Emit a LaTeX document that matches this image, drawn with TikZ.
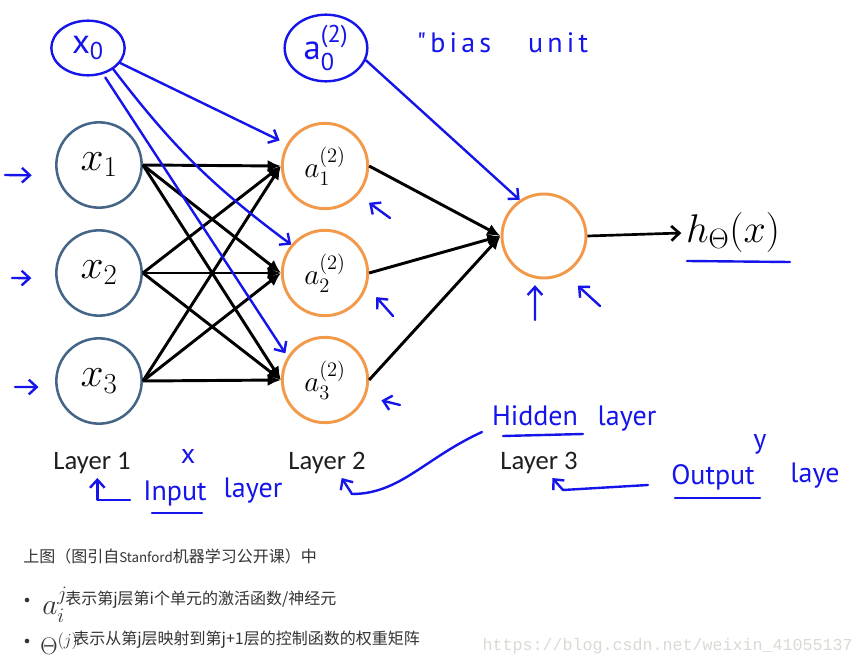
\RequirePackage{fix-cm}
\documentclass[tikz,border=0pt]{standalone}
\usepackage{amsmath}
\usepackage{fontspec}
\newfontfamily\labelfont{Carlito}
\newfontfamily\cjkfont{Noto Sans CJK SC}
\newfontfamily\penfont{PT Sans}
\newfontfamily\penwide{PT Sans}[LetterSpace=15]
\newfontfamily\wmfont{Liberation Mono}
\usetikzlibrary{positioning,shapes.geometric,arrows.meta}
\definecolor{inblue}{RGB}{68,100,136}
\definecolor{hidorange}{RGB}{242,153,74}
\definecolor{penblue}{RGB}{20,20,235}
\definecolor{txtgray}{RGB}{51,51,51}
\definecolor{wmgray}{RGB}{218,218,212}
\tikzset{
  innode/.style={circle, draw=inblue, line width=1.9pt, minimum size=64pt, inner sep=0pt,
                 font=\fontsize{31}{31}\selectfont},
  hidnode/.style={circle, draw=hidorange, line width=2.2pt, minimum size=64pt, inner sep=0pt,
                  font=\fontsize{22}{22}\selectfont},
  outnode/.style={circle, draw=hidorange, line width=2.2pt, minimum size=63pt, inner sep=0pt},
  netarr/.style={-{Latex[length=10pt,width=9pt]}, line width=2.2pt},
  outarr/.style={-{Straight Barb[length=6pt,width=11pt]}, line width=2pt},
  layerlbl/.style={font=\labelfont\fontsize{20}{24}\selectfont, text=black!88, anchor=base},
  pentext/.style={font=\penfont\fontsize{21}{24}\selectfont, text=penblue, anchor=base},
  penell/.style={ellipse, draw=penblue, line width=1.8pt, inner sep=0pt, text=penblue,
                 font=\penfont\fontsize{26}{26}\selectfont},
  penline/.style={draw=penblue, line width=1.8pt, line cap=round},
  penarr/.style={penline, line join=round, -{Straight Barb[length=6pt,width=11pt]}},
  cntext/.style={font=\cjkfont\fontsize{12}{14}\selectfont, text=txtgray, inner sep=0pt, anchor=west},
  bulletdot/.style={circle, fill=txtgray, minimum size=3.5pt, inner sep=0pt}
}

\begin{document}
\begin{tikzpicture}[x=0.75pt,y=-0.75pt]
  \path[use as bounding box, fill=white] (0,0) rectangle (865,667);

  % Input layer
  \node[innode] (x1) at (99,165) {$x_1$};
  \node[innode] (x2) at (99,273) {$x_2$};
  \node[innode] (x3) at (99,381) {$x_3$};

  % Hidden layer
  \node[hidnode] (a1) at (325,166) {$a^{(2)}_1$};
  \node[hidnode] (a2) at (325,273) {$a^{(2)}_2$};
  \node[hidnode] (a3) at (325,380) {$a^{(2)}_3$};

  % Output unit
  \node[outnode] (out) at (544,236) {};
  \node[font=\fontsize{30}{30}\selectfont] (h) at (733,233) {$h_\Theta(x)$};

  % Weights
  \draw[netarr] (x1.east) -- (a1.west);
  \draw[netarr] (x1.east) -- (a2.west);
  \draw[netarr] (x1.east) -- (a3.west);
  \draw[netarr] (x2.east) -- (a1.west);
  \draw[netarr] (x2.east) -- (a2.west);
  \draw[netarr] (x2.east) -- (a3.west);
  \draw[netarr] (x3.east) -- (a1.west);
  \draw[netarr] (x3.east) -- (a2.west);
  \draw[netarr] (x3.east) -- (a3.west);
  \draw[netarr] (a1.east) -- (out.west);
  \draw[netarr] (a2.east) -- (out.west);
  \draw[netarr] (a3.east) -- (out.west);
  \draw[outarr] (out.east) -- (h.west);

  % Layer labels
  \node[layerlbl] (lay1) at (92,469) {Layer 1};
  \node[layerlbl] (lay2) at (327,469) {Layer 2};
  \node[layerlbl] (lay3) at (539,469) {Layer 3};

  % Bias units (pen notes)
  \node[penell, minimum width=55pt, minimum height=41pt] (x0) at (88,48) {x\textsubscript{0}};
  \node[penell, minimum width=62pt, minimum height=50pt] (a0) at (326,48)
        {a$^{\text{(2)}}_{\text{0}}$};
  \node[pentext, font=\penwide\fontsize{21}{24}\selectfont] (bias) at (454,53) {"bias};
  \node[pentext, font=\penwide\fontsize{21}{24}\selectfont] (unit) at (558,53) {unit};
  \draw[penarr, shorten >=6pt] (x0.-25) -- (a1.150);
  \draw[penarr] (x0.-40) to[bend right=8] (a2.140);
  \draw[penarr, shorten <=3pt, shorten >=3pt] (x0.-60) -- (a3.148);
  \draw[penarr] (a0.-17) -- (out.124);

  % Small pen marks
  \coordinate (m1) at (390,218);
  \coordinate (m2) at (393,316);
  \coordinate (m3) at (400,405);
  \coordinate (m4) at (535,320);
  \coordinate (m5) at (600,306);
  \coordinate (m6) at (5,175);
  \coordinate (m7) at (12,278);
  \coordinate (m8) at (15,387);
  \draw[penarr, shorten >=10pt] (m1) -- (a1.-41);
  \draw[penarr, shorten >=10.5pt] (m2) -- (a2.-18);
  \draw[penarr, shorten >=12pt] (m3) -- (a3.-22);
  \draw[penarr, shorten >=5pt] (m4) -- (out.-102);
  \draw[penarr, shorten >=13pt] (m5) -- (out.-61);
  \draw[penarr, shorten >=18.5pt] (m6) -- (x1.194);
  \draw[penarr, shorten >=18pt] (m7) -- (x2.187);
  \draw[penarr, shorten >=12.7pt] (m8) -- (x3.188);

  % Layer notes
  \node[pentext] (hid) at (535,425) {Hidden};
  \node[pentext] (hidl) at (627,425) {layer};
  \node[pentext] (inp) at (175,500) {Input};
  \node[pentext] (inpl) at (253,497) {layer};
  \node[pentext] (outp) at (713,484) {Output};
  \node[pentext] (outl) at (815,482) {laye};
  \node[pentext] (ymark) at (760,448) {y};
  \node[pentext] (xmark) at (188,463) {x};
  \draw[penline] (152,513) -- (202,513);
  \draw[penline] (503,436) -- (583,434);
  \draw[penline] (675,498) -- (760,498);
  \draw[penline] (687,261) -- (790,262);

  \coordinate (c1) at (130,500);
  \coordinate (c2) at (482,432);
  \coordinate (c3) at (648,485);
  \draw[penarr] (c1) -| ([xshift=4pt]lay1.south);
  \draw[penarr] (c2) .. controls (425,458) and (400,494) .. (352,494)
        -- ([xshift=11pt]lay2.south);
  \draw[penarr] (c3) -- (563,490) -- ([xshift=10pt]lay3.south);

  % Notes below
  \node[cntext] (cap) at (23,556)
        {上图（图引自{\fontsize{10}{12}\selectfont Stanford}机器学习公开课）中};
  \node[bulletdot] (d1) at (27,600) {};
  \node[bulletdot] (d2) at (27,641) {};
  \node[anchor=west, inner sep=0pt, text=txtgray, font=\fontsize{22}{22}\selectfont]
        (ai) at (42,605) {$a_i^j$};
  \node[cntext] (t1) at (65,600) {表示第j层第i个单元的激活函数/神经元};
  \node[anchor=west, inner sep=0pt, text=txtgray, font=\fontsize{18}{18}\selectfont]
        (th) at (40,644) {$\Theta^{(j)}$};
  \node[cntext] (t2) at (73,640) {表示从第j层映射到第j+1层的控制函数的权重矩阵};
  \node[font=\wmfont\fontsize{12.5}{14}\selectfont, text=wmgray, anchor=east, inner sep=0pt]
        (wm) at (853,646) {https://blog.csdn.net/weixin\_41055137};
\end{tikzpicture}
\end{document}
